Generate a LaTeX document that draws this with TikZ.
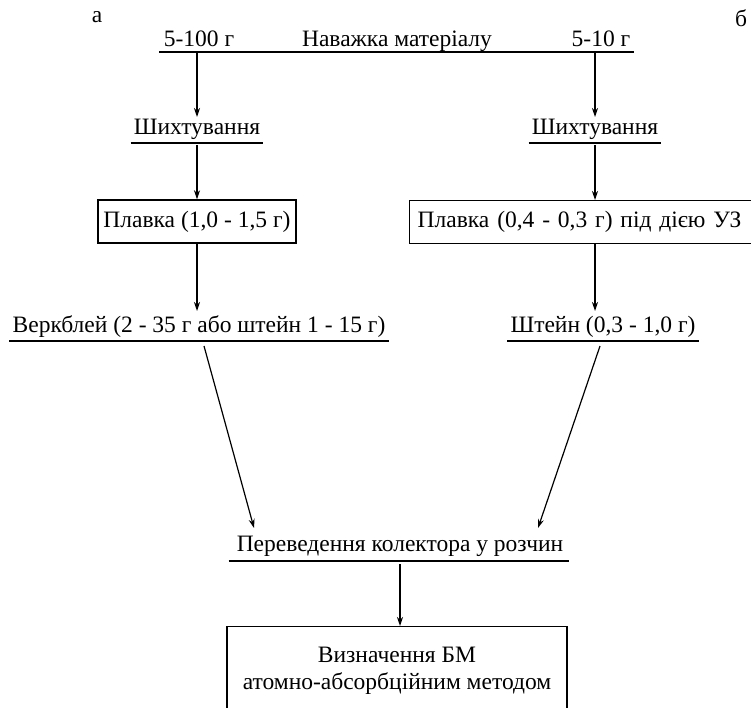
\documentclass[tikz,border=0pt]{standalone}
\usepackage{fontspec}
\setmainfont{Liberation Serif}
\usetikzlibrary{arrows.meta,calc}
\begin{document}
\begin{tikzpicture}[x=1bp,y=-1bp,
  lbl/.style={inner sep=0pt, anchor=base, font=\fontsize{23.5bp}{32bp}\selectfont},
  ul/.style={line width=1.5bp},
  arr/.style={line width=1.2bp, -{Stealth[length=9bp,width=6bp]}},
  bx/.style={draw, line width=1.4bp, inner sep=0pt, font=\fontsize{23.5bp}{32bp}\selectfont}]
\useasboundingbox (0,0) rectangle (751,708);
\clip (0,0) rectangle (751,708);
\fill[white] (0,0) rectangle (751,708);

% top
\node[lbl] (a) at (97,23) {а};
\node[lbl] (b) at (741,27) {б};
\node[lbl] (m1) at (199,47) {5-100 г};
\node[lbl] (nav) at (397,47) {Наважка матеріалу};
\node[lbl] (m2) at (601,47) {5-10 г};
\coordinate (tl) at (159,52);
\coordinate (tr) at (634,52);
\draw[ul] (tl) -- (tr);
\coordinate (s1) at (197,53);
\coordinate (s2) at (595,53);

% Шихтування
\node[lbl] (sh1) at (197,135) {Шихтування};
\node[lbl] (sh2) at (595,135) {Шихтування};
\draw[ul] ($(sh1.base west)+(-3,8)$) -- ($(sh1.base east)+(3,8)$);
\draw[ul] ($(sh2.base west)+(-3,8)$) -- ($(sh2.base east)+(3,8)$);
\draw[arr] (s1) -- (197,117);
\draw[arr] (s2) -- (595,117);

% Плавка boxes
\node[bx, minimum width=198bp, minimum height=43bp] (pl1) at (197,221.5) {Плавка (1,0 - 1,5 г)};
\node[bx, anchor=north west, minimum height=43bp, text width=340bp, inner xsep=8bp, align=left] (pl2) at (409,200) {Плавка (0,4 - 0,3 г) під дією УЗ};
\draw[arr] (197,145) -- (pl1.north);
\draw[arr] (595,145) -- (595,200);

% Веркблей / Штейн
\node[lbl] (vb) at (199,332) {Веркблей (2 - 35 г або штейн 1 - 15 г)};
\node[lbl] (st) at (603,332) {Штейн (0,3 - 1,0 г)};
\draw[ul] ($(vb.base west)+(-3,9)$) -- ($(vb.base east)+(3,9)$);
\draw[ul] ($(st.base west)+(-3,9)$) -- ($(st.base east)+(3,9)$);
\draw[arr] (pl1.south) -- (197,311);
\draw[arr] (595,243) -- (595,311);

% Переведення
\node[lbl] (pr) at (400,551) {Переведення колектора у розчин};
\draw[ul] ($(pr.base west)+(-8,10)$) -- ($(pr.base east)+(6,10)$);
\coordinate (d1) at (204,346);
\coordinate (d2) at (600,346);
\draw[arr] (d1) -- (254,528);
\draw[arr] (d2) -- (538,528);

% bottom box
\node[bx, anchor=north, minimum width=340bp, minimum height=100bp] (bm) at (397,626) {};
\node[lbl] (bm1) at (397,662) {Визначення БМ};
\node[lbl] (bm2) at (397,689) {атомно-абсорбційним методом};
\draw[arr] (400,564) -- (bm.north -| 400,0);
\end{tikzpicture}
\end{document}
